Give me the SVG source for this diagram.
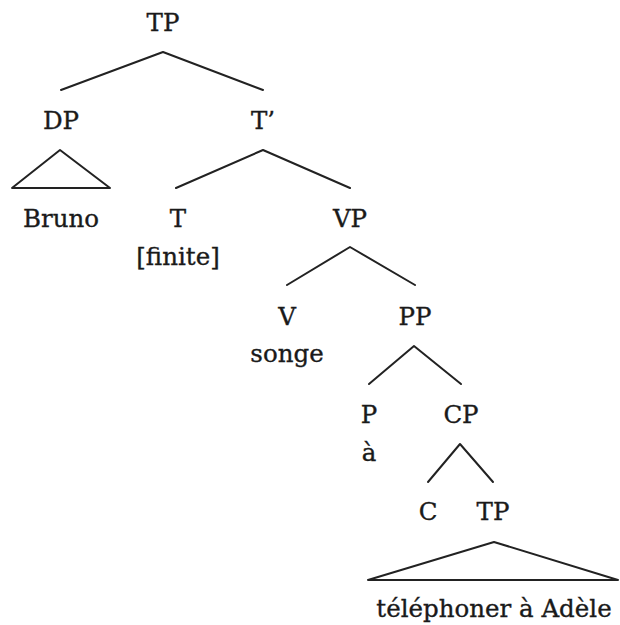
<svg xmlns="http://www.w3.org/2000/svg" width="620" height="625" viewBox="0 0 620 625">
  <style>
    .lbl { font-family: 'DejaVu Serif', serif; font-size: 24.5px; fill: #1a1a1a; stroke: #1a1a1a; stroke-width: 0.35; text-anchor: middle; }
    .edge { stroke: #222; stroke-width: 2; fill: none; stroke-linecap: round; stroke-linejoin: round; }
  </style>
  <rect width="620" height="625" fill="#ffffff"/>

  <!-- branches and roof triangles -->
  <g id="connectors">
    <polyline class="edge" points="61,90 163,52 263,90"/>
    <polygon class="edge" points="60,150 12,188 110,188"/>
    <polyline class="edge" points="176,188 263,150 350,188"/>
    <polyline class="edge" points="287,285 350,247 415,285"/>
    <polyline class="edge" points="369,384 414,346 461,384"/>
    <polyline class="edge" points="428,482 460,444 493,482"/>
    <polygon class="edge" points="494,542 368,580 618,580"/>
  </g>

  <g class="lbl">
    <g id="tp-root"><text x="163" y="31">TP</text></g>
    <g id="dp"><text x="61" y="129">DP</text></g>
    <g id="t-bar"><text x="263" y="129">T’</text></g>
    <g id="bruno"><text x="61" y="227">Bruno</text></g>
    <g id="t"><text x="178" y="227">T</text><text x="178" y="265">[finite]</text></g>
    <g id="vp"><text x="350" y="227">VP</text></g>
    <g id="v"><text x="287" y="325">V</text><text x="287" y="362">songe</text></g>
    <g id="pp"><text x="415" y="325">PP</text></g>
    <g id="p"><text x="369" y="423">P</text><text x="369" y="461">à</text></g>
    <g id="cp"><text x="461" y="423">CP</text></g>
    <g id="c"><text x="428" y="520">C</text></g>
    <g id="tp-embedded"><text x="493" y="520">TP</text></g>
    <g id="tp-content"><text x="494" y="617">téléphoner à Adèle</text></g>
  </g>
</svg>
